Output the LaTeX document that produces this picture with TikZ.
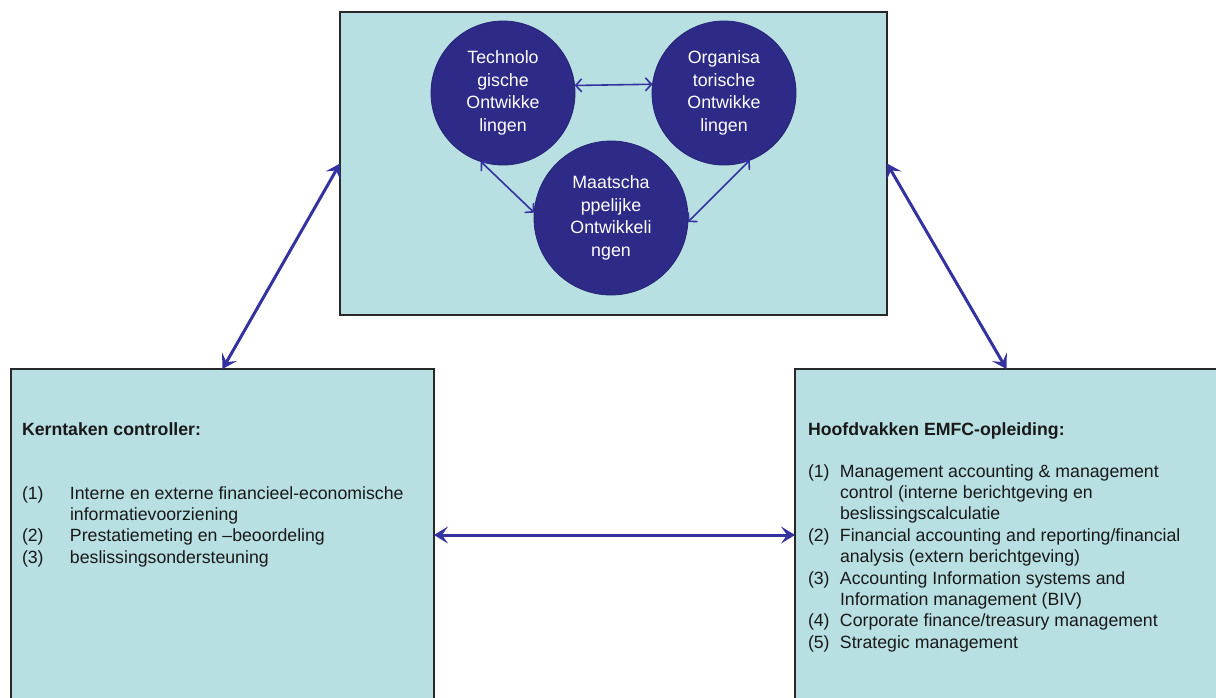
\documentclass[tikz,border=0pt]{standalone}
\usepackage{fontspec}
\setmainfont{Liberation Sans}
\usetikzlibrary{arrows.meta}
\definecolor{boxfill}{RGB}{184,223,226}
\definecolor{navy}{RGB}{45,42,136}
\definecolor{arrowc}{RGB}{52,50,158}
\definecolor{bord}{RGB}{40,40,40}
\begin{document}
\begin{tikzpicture}[x=1pt,y=-1pt,
  box/.style={draw=bord,line width=1.5pt,fill=boxfill,inner sep=0pt,outer sep=0pt},
  circ/.style={circle,fill=navy,draw=navy!85!black,line width=0.8pt,inner sep=0pt,outer sep=0pt,
    text=white,align=center,font=\fontsize{17.8}{22.5}\selectfont},
  bigarrow/.style={draw=arrowc,line width=3pt,
    {Stealth[length=14pt,width=17pt,inset=6pt]}-{Stealth[length=14pt,width=17pt,inset=6pt]}},
  smallarrow/.style={draw=arrowc,line width=1.6pt,
    {Straight Barb[length=6pt,width=13pt]}-{Straight Barb[length=6pt,width=13pt]}},
  txt/.style={font=\fontsize{17.7}{21.4}\selectfont,text=black!90,inner sep=0pt,outer sep=0pt,anchor=base west},
  ttl/.style={txt,font=\fontsize{17.7}{21.4}\selectfont\bfseries}]
\clip (0,0) rectangle (1216,697);
\fill[white] (0,0) rectangle (1216,697);
% boxes
\node[box,minimum width=547pt,minimum height=303pt] (top) at (613.5,163.5) {};
\node[box,minimum width=423pt,minimum height=332pt] (left) at (222.5,535) {};
\node[box,minimum width=423pt,minimum height=332pt] (right) at (1006.5,535) {};
% circles
\node[circ,minimum size=144pt] (tech) at (503,93) {Technolo\\gische\\Ontwikke\\lingen};
\node[circ,minimum size=144pt] (org) at (724,93) {Organisa\\torische\\Ontwikke\\lingen};
\node[circ,minimum size=154pt] (maat) at (611,218) {Maatscha\\ppelijke\\Ontwikkeli\\ngen};
\draw[smallarrow] (tech.6.4) -- (org.173.6);
\draw[smallarrow] (tech.252) -- (maat.176);
\draw[smallarrow] (org.291.5) -- (maat.357);
% big arrows
\draw[bigarrow] (top.west) -- (left.north);
\draw[bigarrow] (top.east) -- (right.north);
\draw[bigarrow] (left.east) -- (right.west);
% left text
\node[ttl] (lt) at (22,435) {Kerntaken controller:};
\node[txt] (ll) at (22,499) {\begin{tabular}[t]{@{}p{48pt}@{}l@{}}
(1) & Interne en externe financieel-economische\\
    & informatievoorziening\\
(2) & Prestatiemeting en –beoordeling\\
(3) & beslissingsondersteuning
\end{tabular}};
% right text
\node[ttl] (rt) at (808,435) {Hoofdvakken EMFC-opleiding:};
\node[txt] (rl) at (808,477) {\begin{tabular}[t]{@{}p{32pt}@{}l@{}}
(1) & Management accounting \& management\\
    & control (interne berichtgeving en\\
    & beslissingscalculatie\\
(2) & Financial accounting and reporting/financial\\
    & analysis (extern berichtgeving)\\
(3) & Accounting Information systems and\\
    & Information management (BIV)\\
(4) & Corporate finance/treasury management\\
(5) & Strategic management
\end{tabular}};
\end{tikzpicture}
\end{document}
